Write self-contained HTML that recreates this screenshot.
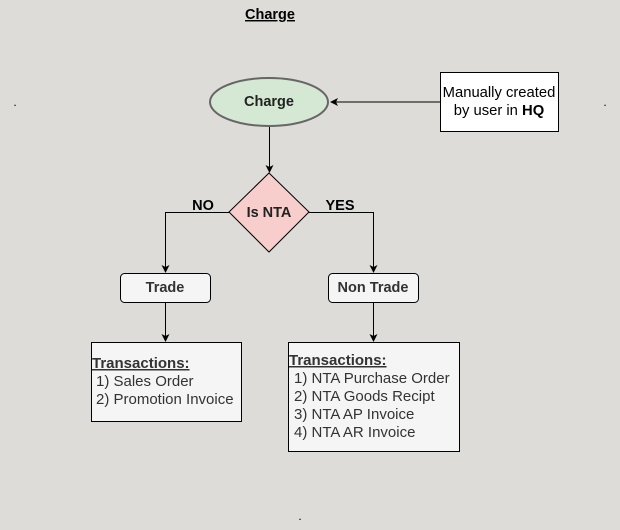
<!DOCTYPE html>
<html><head><meta charset="utf-8"><style>
html,body{margin:0;padding:0;background:#dedcd8;}
svg{display:block;font-family:"Liberation Sans",Arial,sans-serif;}
</style></head><body>
<svg width="620" height="530" viewBox="0 0 620 530" xmlns="http://www.w3.org/2000/svg">
<defs><marker id="a" markerWidth="8" markerHeight="8" refX="7" refY="4" orient="auto" markerUnits="userSpaceOnUse"><path d="M0,0 L8,4 L0,8 L2,4 Z" fill="#000"/></marker></defs>
<rect width="620" height="530" fill="#dedcd8"/>
<text x="270" y="19" text-anchor="middle" font-size="14.5" font-weight="bold" text-decoration="underline">Charge</text>
<text x="15" y="106" font-size="12" text-anchor="middle">.</text>
<text x="605" y="106" font-size="12" text-anchor="middle">.</text>
<text x="300" y="520" font-size="12" text-anchor="middle">.</text>
<ellipse cx="269" cy="102" rx="59" ry="24" fill="#d5e8d4" stroke="#666" stroke-width="2"/>
<text x="269" y="106" text-anchor="middle" font-size="14.5" font-weight="bold" fill="#222">Charge</text>
<rect x="440.5" y="72.5" width="118" height="59" fill="#fff" stroke="#000"/>
<text x="499" y="97" text-anchor="middle" font-size="14.8">Manually created</text>
<text x="499" y="115" text-anchor="middle" font-size="14.8">by user in <tspan font-weight="bold">HQ</tspan></text>
<line x1="440" y1="102" x2="331" y2="102" stroke="#000" marker-end="url(#a)"/>
<line x1="269.5" y1="127" x2="269.5" y2="172" stroke="#000" marker-end="url(#a)"/>
<polygon points="269,173 309,212 269,252 229,212" fill="#f8cecc" stroke="#000"/>
<text x="269" y="217" text-anchor="middle" font-size="14.5" font-weight="bold" fill="#222">Is NTA</text>
<polyline points="229,212.5 165.5,212.5 165.5,272" fill="none" stroke="#000" marker-end="url(#a)"/>
<polyline points="309,212.5 373.5,212.5 373.5,272" fill="none" stroke="#000" marker-end="url(#a)"/>
<text x="203" y="210" text-anchor="middle" font-size="14.5" font-weight="bold">NO</text>
<text x="340" y="210" text-anchor="middle" font-size="14.5" font-weight="bold">YES</text>
<rect x="120.5" y="273.5" width="90" height="29" rx="4" fill="#f5f5f5" stroke="#000"/>
<text x="165" y="292" text-anchor="middle" font-size="14.5" font-weight="bold" fill="#333">Trade</text>
<rect x="328.5" y="273.5" width="90" height="29" rx="4" fill="#f5f5f5" stroke="#000"/>
<text x="373" y="292" text-anchor="middle" font-size="14.5" font-weight="bold" fill="#333">Non Trade</text>
<line x1="165.5" y1="302" x2="165.5" y2="341" stroke="#000" marker-end="url(#a)"/>
<line x1="373.5" y1="302" x2="373.5" y2="341" stroke="#000" marker-end="url(#a)"/>
<rect x="91.5" y="342.5" width="150" height="79" fill="#f5f5f5" stroke="#000"/>
<g font-size="15" fill="#333">
<text x="92" y="368" font-weight="bold" text-decoration="underline">Transactions:</text>
<text x="96" y="386">1) Sales Order</text>
<text x="96" y="404">2) Promotion Invoice</text>
</g>
<rect x="288.5" y="342.5" width="171" height="109" fill="#f5f5f5" stroke="#000"/>
<g font-size="15" fill="#333">
<text x="289" y="365" font-weight="bold" text-decoration="underline">Transactions:</text>
<text x="294" y="383">1) NTA Purchase Order</text>
<text x="294" y="401">2) NTA Goods Recipt</text>
<text x="294" y="419">3) NTA AP Invoice</text>
<text x="294" y="437">4) NTA AR Invoice</text>
</g>
</svg>
</body></html>
